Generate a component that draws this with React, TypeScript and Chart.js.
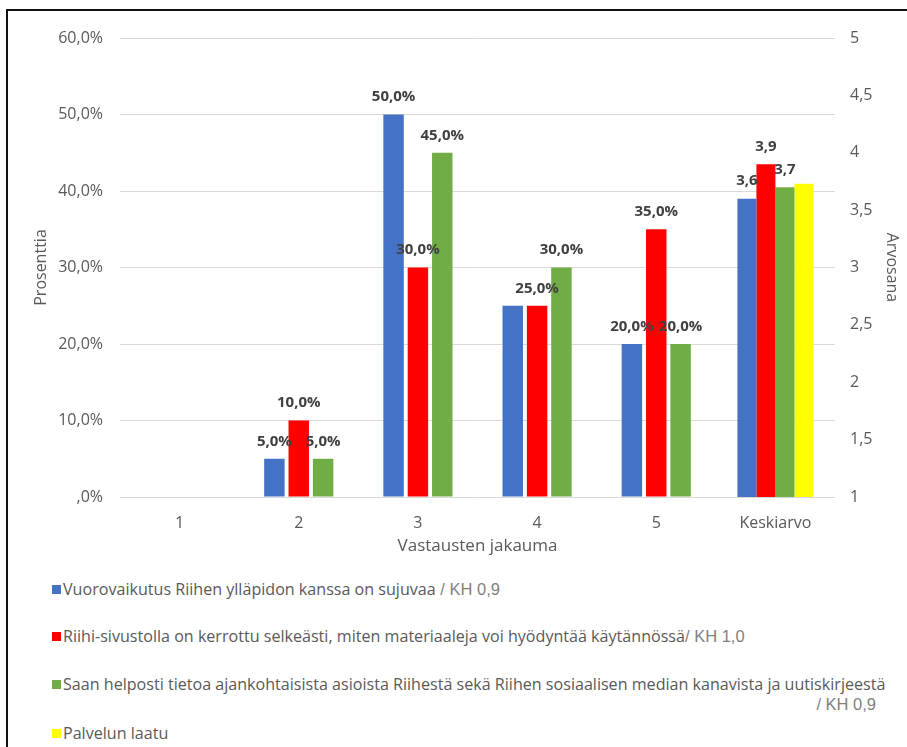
import { useEffect, useRef } from 'react';
import { Chart, registerables } from 'chart.js';

Chart.register(...registerables);

// Answer distribution (per cent of respondents) per grade 1–5
const categories = ['1', '2', '3', '4', '5', 'Keskiarvo'];
const interactionShare = [0, 5, 50, 25, 20, null];
const guidanceShare = [0, 10, 30, 25, 35, null];
const newsShare = [0, 5, 45, 30, 20, null];

// Which of the share bars carry a value label
const interactionLabelled = [false, true, true, false, true, false];
const guidanceLabelled = [false, true, true, true, true, false];
const newsLabelled = [false, true, true, true, true, false];

// Mean grades (right axis), shown in the last category
const interactionMean = [null, null, null, null, null, 3.6];
const guidanceMean = [null, null, null, null, null, 3.9];
const newsMean = [null, null, null, null, null, 3.7];
const qualityMean = [null, null, null, null, null, 3.73];
const meanLabelled = [false, false, false, false, false, true];
const qualityLabelled = [false, false, false, false, false, false];

// Axis tick labels
const percentTicks = [',0%', '10,0%', '20,0%', '30,0%', '40,0%', '50,0%', '60,0%'];
const scoreTicks = ['1', '1,5', '2', '2,5', '3', '3,5', '4', '4,5', '5'];

// Legend entries: statement text and its standard deviation note
const legendItems = [
  { color: '#4472C4', text: 'Vuorovaikutus Riihen ylläpidon kanssa on sujuvaa', note: ' / KH 0,9', wrapNote: false },
  { color: '#FF0000', text: 'Riihi-sivustolla on kerrottu selkeästi, miten materiaaleja voi hyödyntää käytännössä', note: '/ KH 1,0', wrapNote: false },
  { color: '#70AD47', text: 'Saan helposti tietoa ajankohtaisista asioista Riihestä sekä Riihen sosiaalisen median kanavista ja uutiskirjeestä', note: '/ KH 0,9', wrapNote: true },
  { color: '#FFFF00', text: 'Palvelun laatu', note: '', wrapNote: false },
];
const legendTops = [580, 627, 675, 724];

const FONT = "'Open Sans', sans-serif";
const TEXT = '#595959';

const fmtPercent = (v: number) => v.toFixed(1).replace('.', ',') + '%';
const fmtScore = (v: number) => v.toFixed(1).replace('.', ',');

const valueLabels = {
  id: 'valueLabels',
  afterDatasetsDraw(chart: any) {
    const ctx = chart.ctx;
    ctx.save();
    ctx.font = `bold 15px ${FONT}`;
    ctx.fillStyle = '#404040';
    ctx.textAlign = 'center';
    ctx.textBaseline = 'bottom';
    chart.data.datasets.forEach((ds: any, di: number) => {
      const meta = chart.getDatasetMeta(di);
      meta.data.forEach((el: any, i: number) => {
        const v = ds.data[i];
        if (v == null || !ds.labelled[i]) return;
        const text = ds.yAxisID === 'y1' ? fmtScore(v) : fmtPercent(v);
        ctx.fillText(text, el.x, el.y - 10);
      });
    });
    ctx.restore();
  },
};

export default function App() {
  const canvasRef = useRef<HTMLCanvasElement | null>(null);

  useEffect(() => {
    const canvas = canvasRef.current;
    if (!canvas) return;
    const shareBar = { yAxisID: 'y', categoryPercentage: 0.613, barPercentage: 0.84 };
    const meanBar = { yAxisID: 'y1', categoryPercentage: 0.638, barPercentage: 1.0 };
    const chart = new Chart(canvas, {
      type: 'bar',
      data: {
        labels: categories,
        datasets: [
          { ...shareBar, label: legendItems[0].text, data: interactionShare, backgroundColor: '#4472C4', labelled: interactionLabelled } as any,
          { ...shareBar, label: legendItems[1].text, data: guidanceShare, backgroundColor: '#FF0000', labelled: guidanceLabelled } as any,
          { ...shareBar, label: legendItems[2].text, data: newsShare, backgroundColor: '#70AD47', labelled: newsLabelled } as any,
          { ...meanBar, label: legendItems[0].text, data: interactionMean, backgroundColor: '#4472C4', labelled: meanLabelled } as any,
          { ...meanBar, label: legendItems[1].text, data: guidanceMean, backgroundColor: '#FF0000', labelled: meanLabelled } as any,
          { ...meanBar, label: legendItems[2].text, data: newsMean, backgroundColor: '#70AD47', labelled: meanLabelled } as any,
          { ...meanBar, label: legendItems[3].text, data: qualityMean, backgroundColor: '#FFFF00', labelled: qualityLabelled } as any,
        ],
      },
      options: {
        animation: false,
        responsive: false,
        devicePixelRatio: 1,
        skipNull: true,
        layout: { padding: { left: 20, right: 2, top: 27, bottom: 6 } },
        plugins: { legend: { display: false }, tooltip: { enabled: false } },
        scales: {
          x: {
            type: 'category',
            grid: { display: false },
            border: { display: false },
            ticks: { color: TEXT, font: { family: FONT, size: 16 }, padding: 9 },
            title: { display: true, text: 'Vastausten jakauma', color: TEXT, font: { family: FONT, size: 17 } },
            afterFit: (s: any) => { s.height = 63; },
          },
          y: {
            position: 'left',
            min: 0,
            max: 60,
            ticks: {
              stepSize: 10,
              color: TEXT,
              font: { family: FONT, size: 16 },
              padding: 17,
              callback: (_v: any, i: number) => percentTicks[i],
            },
            grid: { color: '#D9D9D9', lineWidth: 1, drawTicks: false },
            border: { display: false },
            title: { display: true, text: 'Prosenttia', color: TEXT, font: { family: FONT, size: 16 } },
            afterFit: (s: any) => { s.width = 92; },
          },
          y1: {
            position: 'right',
            min: 1,
            max: 5,
            ticks: {
              stepSize: 0.5,
              color: TEXT,
              font: { family: FONT, size: 16 },
              padding: 15,
              callback: (_v: any, i: number) => scoreTicks[i],
            },
            grid: { display: false, drawTicks: false },
            border: { display: false },
            title: { display: true, text: 'Arvosana', color: TEXT, font: { family: FONT, size: 16 } },
            afterFit: (s: any) => { s.width = 70; },
          },
        },
      } as any,
      plugins: [valueLabels],
    });
    return () => chart.destroy();
  }, []);

  return (
    <div style={{ position: 'fixed', left: 0, top: 0, width: 907, height: 747, background: '#fff', overflow: 'hidden' }}>
      <div style={{ position: 'absolute', left: 6, top: 9, width: 940, height: 780, border: '2px solid #111', boxSizing: 'border-box' }} />
      <canvas ref={canvasRef} width={899} height={555} style={{ position: 'absolute', left: 8, top: 11, width: 899, height: 555 }} />
      {legendItems.map((item, i) => (
        <div key={i} style={{ position: 'absolute', left: 52, top: legendTops[i], width: 845, fontFamily: FONT, fontSize: 16.1, color: TEXT, lineHeight: '18px', whiteSpace: 'nowrap' }}>
          <span style={{ display: 'inline-block', width: 9, height: 9, background: item.color, marginRight: 2, verticalAlign: 'middle', position: 'relative', top: -1 }} />
          <span>{item.text}</span>
          {item.note && !item.wrapNote && (
            <span style={{ fontFamily: "'Liberation Sans', sans-serif", fontSize: 16.5, color: '#7F7F7F' }}>{item.note}</span>
          )}
          {item.note && item.wrapNote && (
            <div style={{ textAlign: 'right', paddingRight: 21, marginTop: 2, fontFamily: "'Liberation Sans', sans-serif", fontSize: 16.5, color: '#7F7F7F' }}>{item.note}</div>
          )}
        </div>
      ))}
    </div>
  );
}
